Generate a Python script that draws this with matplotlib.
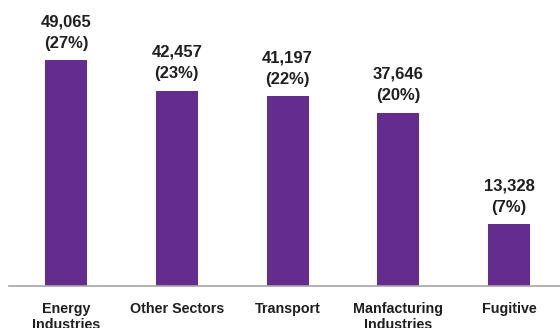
import matplotlib.pyplot as plt

plt.rcParams['font.family'] = ['Liberation Sans', 'DejaVu Sans']

categories = ['Energy\nIndustries', 'Other Sectors', 'Transport', 'Manfacturing\nIndustries', 'Fugitive']
emissions = [49065, 42457, 41197, 37646, 13328]
shares = [27, 23, 22, 20, 7]

bar_color = '#652C90'
text_color = '#1F1F1F'

fig = plt.figure(figsize=(5.6, 3.28), dpi=100)
ax = fig.add_axes([9 / 560, (328 - 285.5) / 328, 551 / 560, 280 / 328])

x = range(len(categories))
bars = ax.bar(x, emissions, width=0.38, color=bar_color, zorder=2)

for rect, val, pct in zip(bars, emissions, shares):
    ax.annotate(f'{val:,}\n({pct}%)',
                xy=(rect.get_x() + rect.get_width() / 2, rect.get_height()),
                xytext=(0, 7), textcoords='offset points',
                ha='center', va='bottom', fontsize=12, fontweight='bold',
                color=text_color, linespacing=1.5)

ax.set_xlim(-0.515, 4.46)
ax.set_ylim(0, 61000)
ax.set_xticks(list(x))
ax.set_xticklabels(categories, fontsize=10.3, fontweight='bold', color=text_color,
                   linespacing=1.2, va='top')
ax.tick_params(axis='x', length=0, pad=12)
ax.set_yticks([])

for side in ['left', 'right', 'top']:
    ax.spines[side].set_visible(False)
ax.spines['bottom'].set_color('#A6A6A6')
ax.spines['bottom'].set_linewidth(1.2)

fig.savefig('out.png', dpi=100)
